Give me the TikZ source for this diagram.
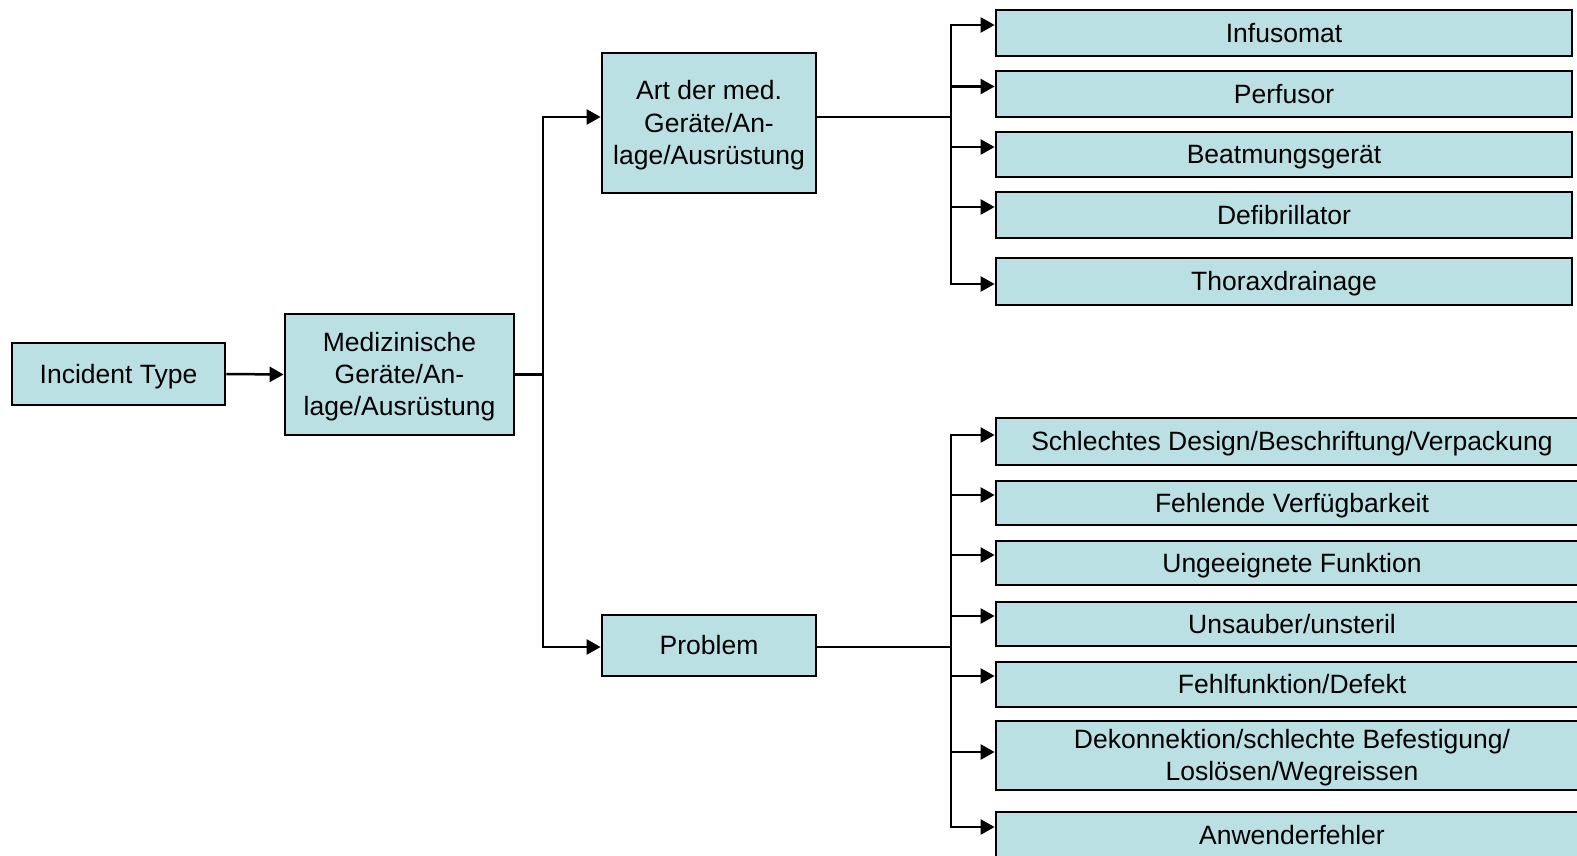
\documentclass[tikz,border=0pt]{standalone}
\usepackage{fontspec}
\setmainfont{Liberation Sans}
\usetikzlibrary{arrows.meta}
\definecolor{boxfill}{RGB}{187,224,227}
\newcommand\mystrut{\rule[-0.212em]{0pt}{1.117em}}
\tikzset{
  box/.style={draw=black, fill=boxfill, line width=2.8pt, align=center, inner sep=0pt,
    font=\fontsize{26.5}{32.2}\selectfont},
  conn/.style={line width=2.5pt, draw=black},
  arr/.style={conn, -{Triangle[length=14pt,width=15pt]}}
}
\begin{document}
\begin{tikzpicture}[x=1pt,y=-1pt]
\clip (0,0) rectangle (1577,856);
\fill[white] (0,0) rectangle (1577,856);
% left
\node[box, minimum width=213pt, minimum height=62pt] (inc) at (118.5,374) {\mystrut Incident Type};
\node[box, minimum width=229pt, minimum height=121pt] (med) at (399.5,374.5) {\mystrut Medizinische\\\mystrut Geräte/An-\\\mystrut lage/Ausrüstung};
\node[box, minimum width=214pt, minimum height=140pt] (art) at (709,123) {\mystrut Art der med.\\\mystrut Geräte/An-\\\mystrut lage/Ausrüstung};
\node[box, minimum width=214pt, minimum height=61pt] (prob) at (709,645.5) {\mystrut Problem};
% upper right
\node[box, minimum width=576pt, minimum height=46pt] (inf) at (1284,33) {\mystrut Infusomat};
\node[box, minimum width=576pt, minimum height=46pt] (per) at (1284,94) {\mystrut Perfusor};
\node[box, minimum width=576pt, minimum height=45pt] (bea) at (1284,154.5) {\mystrut Beatmungsgerät};
\node[box, minimum width=576pt, minimum height=46pt] (def) at (1284,215) {\mystrut Defibrillator};
\node[box, minimum width=576pt, minimum height=47pt] (tho) at (1284,281.5) {\mystrut Thoraxdrainage};
% lower right
\node[box, minimum width=592pt, minimum height=47pt] (sch) at (1292,441.5) {\mystrut Schlechtes Design/Beschriftung/Verpackung};
\node[box, minimum width=592pt, minimum height=44pt] (feh) at (1292,503) {\mystrut Fehlende Verfügbarkeit};
\node[box, minimum width=592pt, minimum height=44pt] (ung) at (1292,563) {\mystrut Ungeeignete Funktion};
\node[box, minimum width=592pt, minimum height=44pt] (uns) at (1292,624) {\mystrut Unsauber/unsteril};
\node[box, minimum width=592pt, minimum height=45pt] (ffd) at (1292,684.5) {\mystrut Fehlfunktion/Defekt};
\node[box, minimum width=592pt, minimum height=69pt] (dek) at (1292,755.5) {\mystrut Dekonnektion/schlechte Befestigung/\\\mystrut Loslösen/Wegreissen};
\node[box, minimum width=592pt, minimum height=46pt] (anw) at (1292,835) {\mystrut Anwenderfehler};
% junctions
\coordinate (j1) at (543,374.5);
\coordinate (ju) at (951,117);
\coordinate (jl) at (951,647);
% connectors
\draw[arr] (inc.east) -- (med.west);
\draw[conn] (med.east |- j1) -- (j1);
\draw[arr] (j1) |- (art.west |- 0,117);
\draw[arr] (j1) |- (prob.west |- 0,647);
\draw[conn] (art.east |- ju) -- (ju);
\draw[conn] (prob.east |- jl) -- (jl);
\draw[arr] (ju) |- (inf.west |- 0,25);
\draw[arr] (ju) |- (per.west |- 0,86.5);
\draw[arr] (ju) |- (bea.west |- 0,147);
\draw[arr] (ju) |- (def.west |- 0,207);
\draw[arr] (ju) |- (tho.west |- 0,284);
\draw[arr] (jl) |- (sch.west |- 0,435);
\draw[arr] (jl) |- (feh.west |- 0,495);
\draw[arr] (jl) |- (ung.west |- 0,555);
\draw[arr] (jl) |- (uns.west |- 0,616);
\draw[arr] (jl) |- (ffd.west |- 0,676);
\draw[arr] (jl) |- (dek.west |- 0,752);
\draw[arr] (jl) |- (anw.west |- 0,827);
\end{tikzpicture}
\end{document}
